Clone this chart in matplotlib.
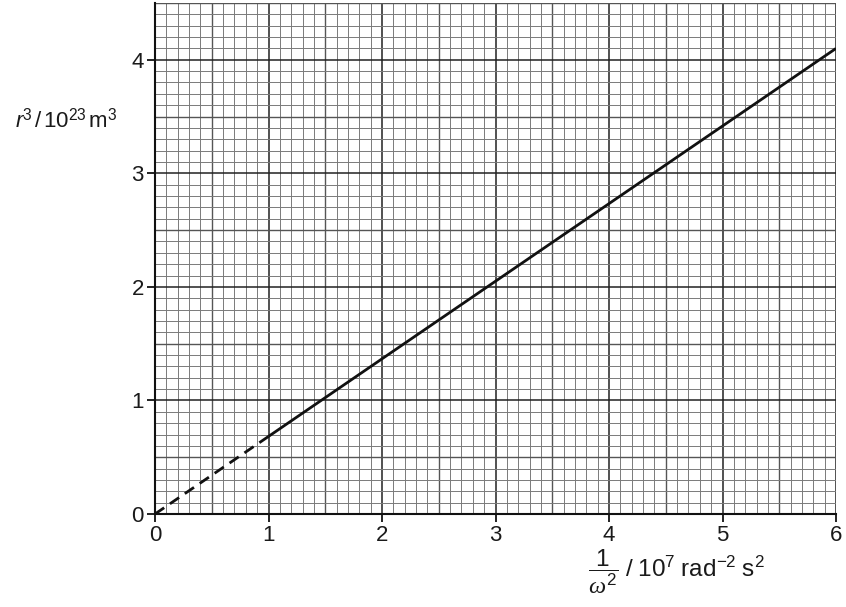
import numpy as np
import matplotlib
matplotlib.use("Agg")
import matplotlib.pyplot as plt

# Data
x_dashed = [0.0, 1.0]
y_dashed = [0.0, 0.683]
x_solid = [1.0, 6.0]
y_solid = [0.683, 4.10]
x_ticks = [0, 1, 2, 3, 4, 5, 6]
y_ticks = [0, 1, 2, 3, 4]

plt.rcParams['font.family'] = ['Liberation Sans', 'DejaVu Sans']
plt.rcParams['mathtext.fontset'] = 'custom'
plt.rcParams['mathtext.rm'] = 'Liberation Sans'
plt.rcParams['mathtext.it'] = 'Liberation Serif:italic'
plt.rcParams['mathtext.sf'] = 'Liberation Sans:italic'

W, H = 846, 607
fig = plt.figure(figsize=(W/100, H/100), dpi=100)
ax = fig.add_axes([155/W, 1-514/H, (836-155)/W, (514-3)/H])
ax.set_xlim(0, 6)
ax.set_ylim(0, 4.5)

# grid
def style(v):
    k = int(round(v*10))
    if k % 10 == 0:
        return '#222222', 1.1
    if k % 5 == 0:
        return '#555555', 1.0
    return '#7a7a7a', 0.7

for v in np.arange(0, 6.001, 0.1):
    c, lw = style(v)
    ax.axvline(v, color=c, lw=lw, zorder=1)
for v in np.arange(0, 4.501, 0.1):
    c, lw = style(v)
    ax.axhline(v, color=c, lw=lw, zorder=1)

ax.plot(x_dashed, y_dashed, color='#111111', lw=2, ls=(0, (4, 2.5)), zorder=3)
ax.plot(x_solid, y_solid, color='#111111', lw=2, zorder=3, solid_capstyle='butt')

for s in ['top', 'right']:
    ax.spines[s].set_visible(False)
for s in ['left', 'bottom']:
    ax.spines[s].set_linewidth(1.5)
    ax.spines[s].set_color('#111111')
    ax.spines[s].set_zorder(4)

ax.set_xticks(x_ticks)
ax.set_yticks(y_ticks)
ax.set_xticklabels([str(t) for t in x_ticks])
ax.set_yticklabels([str(t) for t in y_ticks])
ax.tick_params(direction='out', length=6, width=1.3, color='#111111',
               labelsize=16, pad=2, labelcolor='#1a1a1a')

fig.text(15/W, 1-120/H, r'$\mathsf{r}^{3}\,/\,10^{23}\,\mathrm{m}^{3}$',
         fontsize=16, ha='left', va='center', color='#1a1a1a')
fig.text(588/W, 1-572/H,
         r'$\dfrac{\mathrm{1}}{\omega^{\mathrm{2}}}\ \mathrm{/\ 10^{7}\ rad^{-2}\ s^{2}}$',
         fontsize=17.5, ha='left', va='center', color='#1a1a1a')

fig.savefig('out.png', dpi=100)
